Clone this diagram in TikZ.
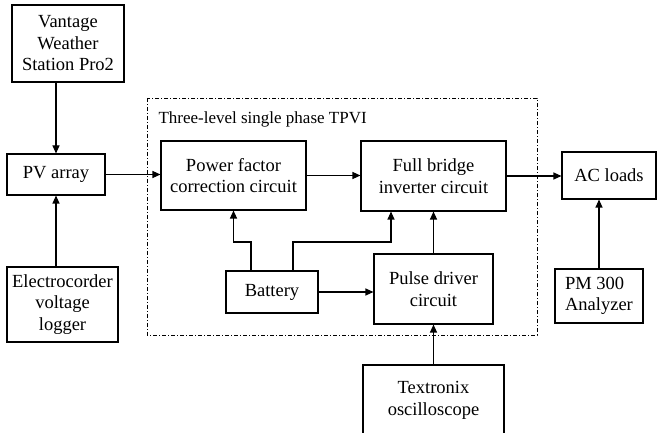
\documentclass[tikz,border=0pt]{standalone}
\usepackage{fontspec}
\setmainfont{Liberation Serif}
\usetikzlibrary{arrows.meta}

\begin{document}
\begin{tikzpicture}[x=1pt,y=-1pt,
  every node/.style={font=\fontsize{18.5}{21.5}\selectfont},
  blk/.style={draw,line width=1.1pt,align=center,inner sep=0pt},
  arr/.style={line width=1.1pt,-{Triangle[length=8pt,width=7pt]}},
  dashdot/.style={line width=0.8pt,dash pattern=on 4pt off 2pt on 1pt off 2pt}]
\useasboundingbox (0,0) rectangle (657,433);
\clip (0,0) rectangle (657,433);
% measuring side
\node[blk,minimum width=112pt,minimum height=77pt] (vws) at (68,43.5) {Vantage\\Weather\\Station Pro2};
\node[blk,minimum width=98pt,minimum height=41pt] (pv) at (56,174.5) {PV array};
\node[blk,minimum width=111pt,minimum height=75pt] (elec) at (62.5,304.5) {Electrocorder\\voltage\\logger};
% the TPVI block
\draw[dashdot] (147,98) rectangle (537,335);
\node[anchor=west,font=\fontsize{17}{20}\selectfont] (ttl) at (155,119) {Three-level single phase TPVI};
\node[blk,minimum width=145pt,minimum height=69pt] (pfc) at (233.5,175.5) {Power factor\\correction circuit};
\node[blk,minimum width=145pt,minimum height=70pt] (fb) at (433.5,176) {Full bridge\\inverter circuit};
\node[blk,minimum width=92pt,minimum height=42pt] (bat) at (272,292) {Battery};
\node[blk,minimum width=119pt,minimum height=70pt] (pulse) at (433.5,289) {Pulse driver\\circuit};
% outside
\node[blk,minimum width=94pt,minimum height=47pt] (ac) at (609,175.5) {AC loads};
\node[blk,align=left,minimum width=88pt,minimum height=54pt] (pm) at (599,296) {PM 300\\Analyzer};
\node[blk,minimum width=141pt,minimum height=71pt] (tex) at (433.5,400.5) {Textronix\\oscilloscope};
% connectors
\draw[arr] (pv.north |- vws.south) -- (pv.north);
\draw[arr] (pv.south |- elec.north) -- (pv.south);
\draw[arr] (pv.east) -- (pv.east -| pfc.west);
\draw[arr] (pfc.east) -- (pfc.east -| fb.west);
\draw[arr] (fb.east) -- (fb.east -| ac.west);
\draw[arr] (pm.north) -- (pm.north |- ac.south);
\coordinate (b1) at (251,242);
\coordinate (b2) at (293,242);
\coordinate (b3) at (391,242);
\draw[arr] (b1 |- bat.north) -- (b1) -| (pfc.south);
\draw[arr] (b2 |- bat.north) -- (b2) -- (b3) -- (b3 |- fb.south);
\draw[arr] (bat.east) -- (bat.east -| pulse.west);
\draw[arr] (pulse.north) -- (pulse.north |- fb.south);
\draw[arr] (tex.north) -- (pulse.south);
\end{tikzpicture}
\end{document}
